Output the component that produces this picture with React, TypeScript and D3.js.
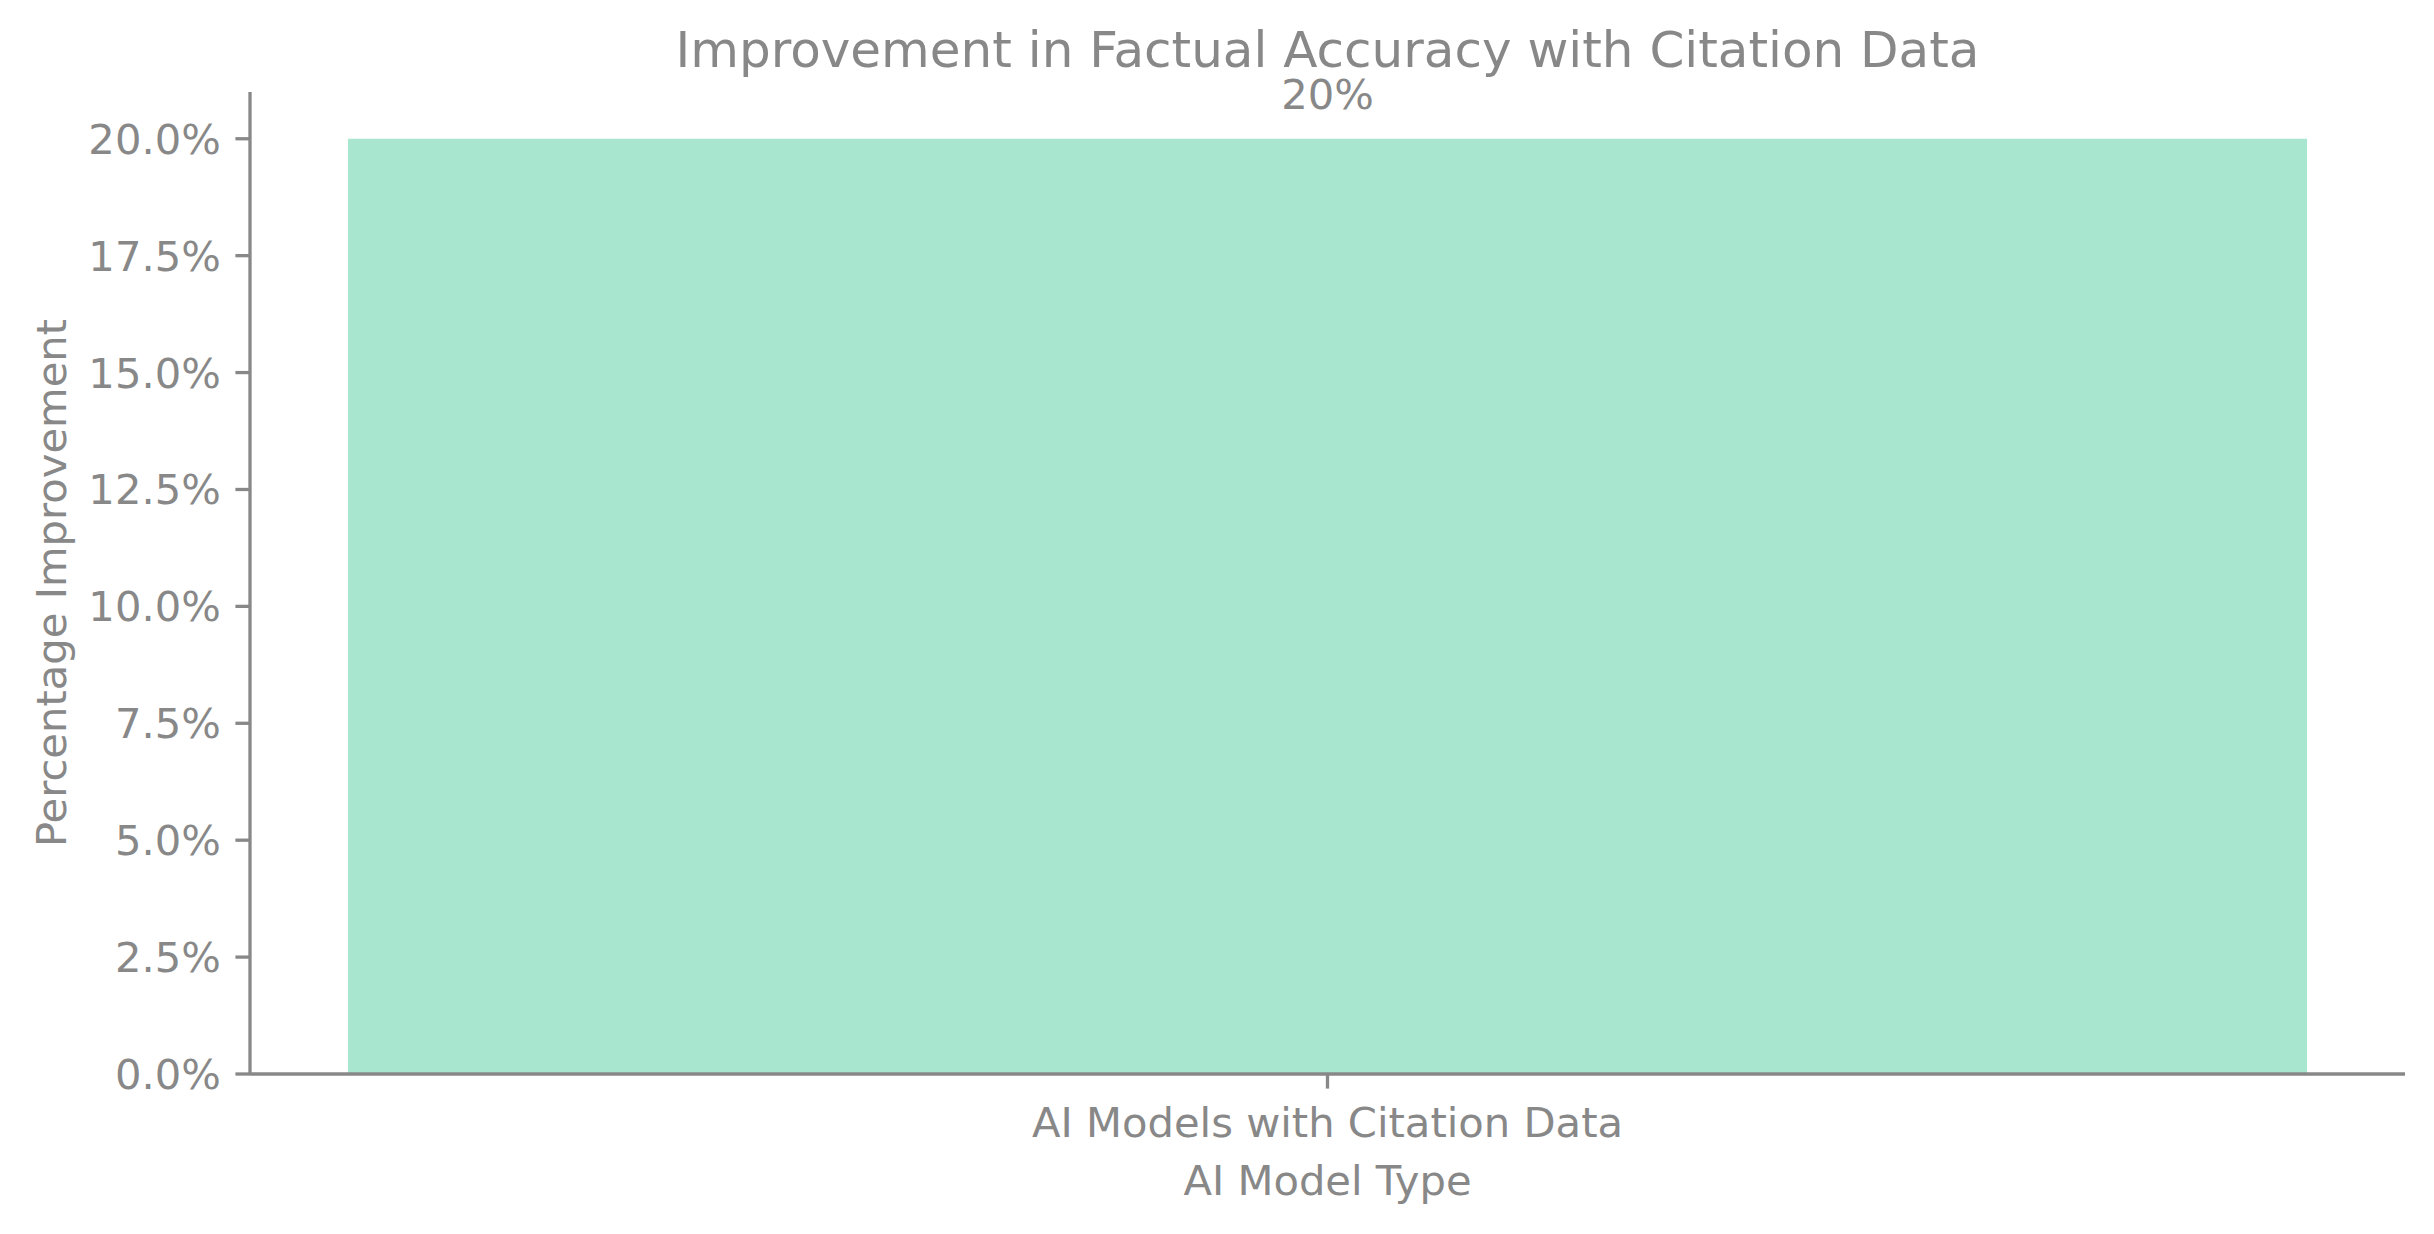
import * as d3 from 'd3'
import { useEffect } from 'react'

// chart data
const categories = ['AI Models with Citation Data']
const improvement = [20]
const yTicks = [0, 2.5, 5, 7.5, 10, 12.5, 15, 17.5, 20]
const barLabels = ['20%']

const W = 2434
const H = 1234
const margin = { top: 92, right: 29, bottom: 160, left: 250 }
const gray = '#888888'
const barColor = '#a8e6cf'
const font = 'DejaVu Sans, sans-serif'

export default function App() {
  useEffect(() => {
    document.body.style.margin = '0'
  }, [])

  // one band, 5% margin on each side like matplotlib's default x margin
  const x = d3
    .scaleBand<string>()
    .domain(categories)
    .range([margin.left, W - margin.right])
    .paddingInner(0)
    .paddingOuter(0.05)

  const y = d3
    .scaleLinear()
    .domain([0, 21])
    .range([H - margin.bottom, margin.top])

  const tickLen = 14.6
  const pad = 14.6
  const x0 = margin.left
  const y0 = y(0)

  return (
    <svg width={W} height={H} style={{ display: 'block', background: '#fff' }} fontFamily={font}>
      {/* bars */}
      {categories.map((c, i) => (
        <g key={c}>
          <rect
            x={x(c)}
            y={y(improvement[i])}
            width={x.bandwidth()}
            height={y0 - y(improvement[i])}
            fill={barColor}
          />
          <text
            x={(x(c) as number) + x.bandwidth() / 2}
            y={y(improvement[i]) - 30}
            textAnchor="middle"
            fontSize={41.7}
            fill={gray}
          >
            {barLabels[i]}
          </text>
        </g>
      ))}

      {/* y axis */}
      <line x1={x0} x2={x0} y1={y.range()[1]} y2={y0} stroke={gray} strokeWidth={3.3} />
      {yTicks.map((t) => (
        <g key={t}>
          <line x1={x0 - tickLen} x2={x0} y1={y(t)} y2={y(t)} stroke={gray} strokeWidth={3.3} />
          <text
            x={x0 - tickLen - pad}
            y={y(t)}
            dy="0.36em"
            textAnchor="end"
            fontSize={41.7}
            fill={gray}
          >
            {t.toFixed(1) + '%'}
          </text>
        </g>
      ))}

      {/* x axis */}
      <line
        x1={x0}
        x2={W - margin.right}
        y1={y0}
        y2={y0}
        stroke={gray}
        strokeWidth={3.3}
      />
      {categories.map((c) => {
        const cx = (x(c) as number) + x.bandwidth() / 2
        return (
          <g key={c}>
            <line x1={cx} x2={cx} y1={y0} y2={y0 + tickLen} stroke={gray} strokeWidth={3.3} />
            <text x={cx} y={y0 + 63} textAnchor="middle" fontSize={41.7} fill={gray}>
              {c}
            </text>
          </g>
        )
      })}

      {/* labels */}
      <text
        x={(x0 + W - margin.right) / 2}
        y={y0 + 121}
        textAnchor="middle"
        fontSize={41.7}
        fill={gray}
      >
        AI Model Type
      </text>
      <text
        transform={`translate(66,${(y0 + margin.top) / 2}) rotate(-90)`}
        textAnchor="middle"
        fontSize={41.7}
        fill={gray}
      >
        Percentage Improvement
      </text>
      <text
        x={(x0 + W - margin.right) / 2}
        y={margin.top - 25}
        textAnchor="middle"
        fontSize={50}
        fill={gray}
      >
        Improvement in Factual Accuracy with Citation Data
      </text>
    </svg>
  )
}
